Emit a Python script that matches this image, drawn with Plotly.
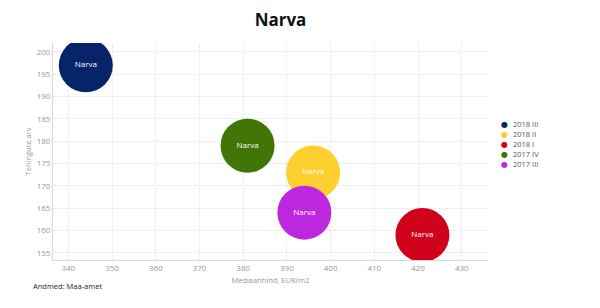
import plotly.graph_objects as go

series = ["2018 III", "2018 II", "2018 I", "2017 IV", "2017 III"]
price = [344, 396, 421, 381, 394]
deals = [197, 173, 159, 179, 164]
colors = ["#07246a", "#fecf2f", "#d0021b", "#417505", "#bd27dd"]
label = "Narva"
x_ticks = [340, 350, 360, 370, 380, 390, 400, 410, 420, 430]
y_ticks = [155, 160, 165, 170, 175, 180, 185, 190, 195, 200]

FONT = "Open Sans"
fig = go.Figure()
for s, x, y, c in zip(series, price, deals, colors):
    fig.add_trace(go.Scatter(
        x=[x], y=[y], mode="markers+text", name=s, text=[label],
        textposition="middle center",
        textfont=dict(color="white", size=8, family=FONT),
        marker=dict(size=54, color=c, line=dict(width=0), opacity=1),
        showlegend=False, hoverinfo="skip",
    ))

L, R, T, B = 53, 112, 43, 48
W, H = 600, 308
pw, ph = W - L - R, H - T - B


def px(xp):
    return (xp - L) / pw


def py(yp):
    return 1 - (yp - T) / ph


# compact legend as annotations
for i, (s, c) in enumerate(zip(series, colors)):
    yy = 124 + 10 * i
    fig.add_annotation(x=px(504), y=py(yy), xref="paper", yref="paper", text="●",
                       showarrow=False, font=dict(color=c, size=8, family="DejaVu Sans"),
                       xanchor="center", yanchor="middle")
    fig.add_annotation(x=px(511), y=py(yy), xref="paper", yref="paper", text=s,
                       showarrow=False, font=dict(color="#555555", size=7.5, family=FONT),
                       xanchor="left", yanchor="middle")

fig.add_annotation(x=px(31), y=py(286), xref="paper", yref="paper",
                   text="Andmed: Maa-amet", showarrow=False, xanchor="left", yanchor="middle",
                   font=dict(size=7.5, color="#222222", family=FONT))

grid = dict(showgrid=True, gridcolor="#e2e2e2", griddash="1px,1px", gridwidth=1,
            showline=True, linecolor="#d9d9d9", linewidth=1, zeroline=False, ticks="",
            tickfont=dict(size=8, color="#999999", family=FONT))

fig.update_layout(
    width=W, height=H,
    margin=dict(l=L, r=R, t=T, b=B),
    paper_bgcolor="white", plot_bgcolor="white",
    title=dict(text="<b>Narva</b>", x=280.5 / W, xanchor="center", y=1 - 20 / H, yanchor="middle",
               font=dict(size=17, color="#111111", family=FONT)),
    font=dict(family=FONT),
    xaxis=dict(range=[336.5, 436], tickvals=x_ticks,
               title=dict(text="Mediaanhind, EUR/m2", font=dict(size=7.5, color="#999999", family=FONT), standoff=6),
               **grid),
    yaxis=dict(range=[153.4, 202], tickvals=y_ticks,
               title=dict(text="Tehingute arv", font=dict(size=7.5, color="#999999", family=FONT), standoff=4),
               **grid),
)

fig.write_html("out.html")
